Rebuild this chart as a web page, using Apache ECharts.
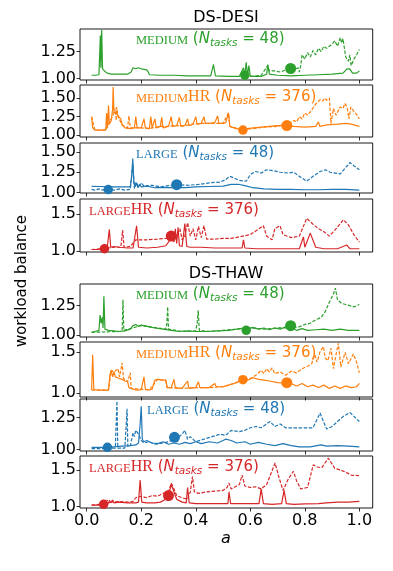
<!DOCTYPE html>
<html><head><meta charset="utf-8">
<script src="https://cdn.jsdelivr.net/npm/echarts@6/dist/echarts.min.js"></script>
<style>html,body{margin:0;padding:0;background:#fff}#c{width:393px;height:571px}</style>
</head><body><div id="c"></div>
<script>
// ---------- DATA ----------
const xTicks = [0, 0.2, 0.4, 0.6, 0.8, 1.0];
const groupTitles = ['DS-DESI', 'DS-THAW'];
const yLabel = 'workload balance';
const xLabel = 'a';

// DS-DESI MEDIUM
const desiMediumSolid = [[0.018,1.03],[0.03,1.03],[0.045,1.035],[0.05,1.40],[0.052,1.10],[0.055,1.45],[0.058,1.09],[0.065,1.07],[0.075,1.05],[0.09,1.04],[0.12,1.04],[0.15,1.04],[0.163,1.06],[0.17,1.10],[0.18,1.09],[0.19,1.10],[0.20,1.09],[0.21,1.085],[0.22,1.08],[0.226,1.06],[0.23,1.035],[0.27,1.03],[0.32,1.03],[0.37,1.025],[0.42,1.025],[0.455,1.025],[0.465,1.13],[0.472,1.025],[0.52,1.02],[0.56,1.02],[0.575,1.10],[0.58,1.03],[0.585,1.15],[0.59,1.03],[0.595,1.12],[0.60,1.02],[0.64,1.02],[0.66,1.04],[0.664,1.13],[0.67,1.04],[0.70,1.03],[0.75,1.025],[0.80,1.03],[0.85,1.035],[0.90,1.04],[0.94,1.05],[0.955,1.09],[0.965,1.09],[0.975,1.05],[0.99,1.05],[1.0,1.07]];
const desiMediumDashed = [[0.60,1.02],[0.64,1.03],[0.664,1.12],[0.67,1.07],[0.69,1.07],[0.71,1.06],[0.73,1.08],[0.748,1.09],[0.76,1.08],[0.775,1.10],[0.78,1.06],[0.785,1.12],[0.79,1.22],[0.80,1.18],[0.81,1.24],[0.82,1.20],[0.83,1.26],[0.84,1.22],[0.85,1.28],[0.86,1.25],[0.87,1.30],[0.88,1.28],[0.89,1.30],[0.90,1.32],[0.91,1.35],[0.92,1.30],[0.93,1.38],[0.935,1.33],[0.94,1.37],[0.95,1.20],[0.96,1.16],[0.965,1.22],[0.97,1.12],[0.98,1.18],[0.99,1.22],[1.0,1.27]];
const desiMediumMarkers = [[0.58,1.03],[0.748,1.093]];

// DS-DESI MEDIUM HR
const desiMediumHRSolid = [[0.018,1.25],[0.022,1.10],[0.03,1.07],[0.05,1.07],[0.07,1.07],[0.073,1.30],[0.076,1.10],[0.08,1.40],[0.083,1.15],[0.09,1.20],[0.095,1.35],[0.097,1.65],[0.10,1.30],[0.105,1.28],[0.11,1.30],[0.115,1.26],[0.12,1.28],[0.125,1.22],[0.13,1.14],[0.14,1.10],[0.16,1.09],[0.175,1.10],[0.18,1.25],[0.185,1.10],[0.20,1.10],[0.21,1.22],[0.215,1.10],[0.23,1.09],[0.235,1.25],[0.24,1.10],[0.25,1.22],[0.255,1.10],[0.27,1.12],[0.275,1.24],[0.28,1.10],[0.30,1.12],[0.31,1.25],[0.315,1.12],[0.33,1.13],[0.34,1.24],[0.345,1.12],[0.36,1.13],[0.37,1.22],[0.375,1.13],[0.39,1.15],[0.40,1.25],[0.405,1.15],[0.42,1.16],[0.43,1.25],[0.435,1.16],[0.45,1.16],[0.47,1.17],[0.48,1.26],[0.485,1.16],[0.50,1.16],[0.51,1.17],[0.52,1.30],[0.525,1.12],[0.54,1.10],[0.56,1.08],[0.575,1.07],[0.59,1.09],[0.61,1.10],[0.64,1.11],[0.67,1.12],[0.70,1.13],[0.734,1.13],[0.76,1.12],[0.80,1.11],[0.84,1.12],[0.85,1.18],[0.855,1.12],[0.88,1.14],[0.92,1.15],[0.95,1.16],[0.97,1.15],[1.0,1.12]];
const desiMediumHRDashed = [[0.018,1.25],[0.03,1.07],[0.07,1.07],[0.10,1.30],[0.105,1.36],[0.108,1.20],[0.11,1.38],[0.115,1.25],[0.13,1.14],[0.15,1.10],[0.155,1.26],[0.16,1.10],[0.20,1.10],[0.23,1.09],[0.27,1.12],[0.30,1.12],[0.33,1.13],[0.36,1.13],[0.39,1.15],[0.42,1.16],[0.45,1.16],[0.48,1.16],[0.50,1.16],[0.52,1.30],[0.525,1.12],[0.57,1.07],[0.65,1.11],[0.70,1.12],[0.72,1.14],[0.74,1.16],[0.76,1.20],[0.77,1.18],[0.78,1.25],[0.79,1.22],[0.80,1.30],[0.81,1.27],[0.825,1.34],[0.84,1.42],[0.856,1.48],[0.865,1.46],[0.874,1.50],[0.88,1.47],[0.89,1.50],[0.896,1.16],[0.905,1.36],[0.915,1.27],[0.929,1.38],[0.94,1.36],[0.947,1.43],[0.955,1.38],[0.962,1.22],[0.969,1.38],[0.98,1.32],[0.99,1.28],[1.0,1.22]];
const desiMediumHRMarkers = [[0.573,1.07],[0.734,1.13]];

// DS-DESI LARGE
const desiLargeSolid = [[0.018,1.077],[0.05,1.075],[0.08,1.07],[0.12,1.07],[0.16,1.07],[0.165,1.20],[0.169,1.42],[0.173,1.12],[0.178,1.07],[0.183,1.12],[0.188,1.06],[0.193,1.10],[0.20,1.07],[0.22,1.08],[0.25,1.06],[0.28,1.065],[0.30,1.06],[0.33,1.065],[0.36,1.06],[0.40,1.07],[0.45,1.075],[0.50,1.08],[0.53,1.10],[0.56,1.10],[0.58,1.085],[0.61,1.06],[0.65,1.045],[0.70,1.04],[0.75,1.04],[0.80,1.035],[0.85,1.035],[0.90,1.04],[0.95,1.04],[1.0,1.03]];
const desiLargeDashed = [[0.018,1.04],[0.03,1.03],[0.045,1.045],[0.06,1.03],[0.08,1.037],[0.10,1.03],[0.12,1.045],[0.14,1.03],[0.16,1.04],[0.169,1.35],[0.175,1.05],[0.18,1.13],[0.19,1.07],[0.20,1.12],[0.21,1.08],[0.24,1.09],[0.27,1.07],[0.30,1.085],[0.33,1.098],[0.37,1.09],[0.41,1.10],[0.45,1.12],[0.49,1.13],[0.51,1.16],[0.525,1.20],[0.54,1.18],[0.56,1.15],[0.585,1.14],[0.60,1.22],[0.62,1.26],[0.64,1.24],[0.66,1.28],[0.685,1.27],[0.71,1.25],[0.74,1.24],[0.76,1.25],[0.78,1.20],[0.807,1.14],[0.83,1.20],[0.856,1.26],[0.875,1.28],[0.893,1.25],[0.93,1.23],[0.966,1.37],[0.98,1.33],[1.0,1.28]];
const desiLargeMarkers = [[0.079,1.037],[0.33,1.098]];

// DS-DESI LARGE HR
const desiLargeHRSolid = [[0.018,1.02],[0.04,1.02],[0.063,1.03],[0.075,1.04],[0.083,1.29],[0.088,1.05],[0.10,1.06],[0.12,1.05],[0.15,1.04],[0.17,1.04],[0.183,1.34],[0.19,1.05],[0.22,1.04],[0.26,1.05],[0.29,1.07],[0.312,1.18],[0.32,1.12],[0.325,1.30],[0.33,1.10],[0.335,1.32],[0.34,1.07],[0.35,1.06],[0.36,1.37],[0.367,1.06],[0.38,1.05],[0.42,1.05],[0.47,1.04],[0.52,1.04],[0.57,1.04],[0.575,1.15],[0.58,1.04],[0.62,1.03],[0.68,1.03],[0.74,1.03],[0.78,1.03],[0.795,1.19],[0.80,1.05],[0.82,1.24],[0.84,1.05],[0.87,1.03],[0.92,1.03],[0.954,1.08],[0.965,1.03],[1.0,1.03]];
const desiLargeHRDashed = [[0.018,1.02],[0.06,1.03],[0.10,1.05],[0.125,1.05],[0.132,1.28],[0.137,1.05],[0.16,1.06],[0.18,1.15],[0.19,1.15],[0.22,1.15],[0.26,1.16],[0.29,1.17],[0.312,1.18],[0.33,1.20],[0.342,1.30],[0.35,1.15],[0.36,1.20],[0.37,1.38],[0.38,1.20],[0.39,1.30],[0.40,1.15],[0.41,1.33],[0.42,1.18],[0.43,1.34],[0.44,1.16],[0.47,1.16],[0.50,1.17],[0.53,1.17],[0.56,1.19],[0.60,1.22],[0.62,1.27],[0.648,1.34],[0.66,1.20],[0.68,1.15],[0.69,1.30],[0.709,1.34],[0.72,1.22],[0.75,1.18],[0.78,1.20],[0.807,1.44],[0.83,1.36],[0.85,1.30],[0.87,1.26],[0.89,1.20],[0.915,1.30],[0.941,1.42],[0.96,1.35],[0.98,1.22],[1.0,1.12]];
const desiLargeHRMarkers = [[0.065,1.03],[0.31,1.20]];

// DS-THAW MEDIUM
const thawMediumSolid = [[0.018,1.023],[0.03,1.03],[0.045,1.04],[0.049,1.17],[0.053,1.10],[0.057,1.15],[0.060,1.06],[0.063,1.33],[0.067,1.05],[0.08,1.04],[0.10,1.035],[0.12,1.03],[0.14,1.035],[0.16,1.05],[0.17,1.08],[0.18,1.09],[0.19,1.075],[0.20,1.085],[0.21,1.08],[0.23,1.07],[0.25,1.06],[0.28,1.05],[0.31,1.04],[0.34,1.03],[0.37,1.035],[0.40,1.03],[0.44,1.03],[0.48,1.035],[0.52,1.04],[0.55,1.05],[0.575,1.06],[0.59,1.05],[0.61,1.065],[0.63,1.05],[0.65,1.06],[0.67,1.045],[0.69,1.06],[0.71,1.05],[0.73,1.07],[0.75,1.06],[0.77,1.04],[0.79,1.055],[0.81,1.04],[0.84,1.045],[0.87,1.05],[0.90,1.04],[0.93,1.05],[0.96,1.04],[1.0,1.04]];
const thawMediumDashed = [[0.018,1.023],[0.12,1.03],[0.130,1.04],[0.133,1.30],[0.136,1.04],[0.20,1.08],[0.26,1.06],[0.29,1.05],[0.294,1.10],[0.297,1.24],[0.30,1.05],[0.35,1.03],[0.40,1.035],[0.405,1.10],[0.409,1.21],[0.413,1.04],[0.45,1.03],[0.50,1.04],[0.55,1.05],[0.60,1.06],[0.65,1.05],[0.70,1.06],[0.75,1.06],[0.78,1.07],[0.80,1.09],[0.82,1.10],[0.84,1.13],[0.86,1.15],[0.875,1.20],[0.89,1.28],[0.905,1.35],[0.912,1.40],[0.92,1.30],[0.935,1.27],[0.95,1.26],[0.965,1.25],[0.98,1.24],[1.0,1.26]];
const thawMediumMarkers = [[0.585,1.04],[0.748,1.08]];

// DS-THAW MEDIUM HR
const thawMediumHRSolid = [[0.018,1.04],[0.022,1.47],[0.026,1.05],[0.04,1.04],[0.06,1.04],[0.08,1.04],[0.085,1.22],[0.09,1.28],[0.095,1.20],[0.10,1.26],[0.105,1.20],[0.11,1.22],[0.12,1.18],[0.13,1.17],[0.14,1.15],[0.15,1.14],[0.155,1.07],[0.16,1.05],[0.18,1.04],[0.20,1.045],[0.21,1.20],[0.215,1.05],[0.23,1.04],[0.24,1.05],[0.25,1.16],[0.26,1.17],[0.28,1.16],[0.29,1.16],[0.295,1.07],[0.31,1.07],[0.32,1.17],[0.325,1.07],[0.35,1.06],[0.37,1.15],[0.375,1.06],[0.40,1.07],[0.41,1.14],[0.415,1.07],[0.45,1.07],[0.47,1.12],[0.475,1.08],[0.50,1.08],[0.52,1.10],[0.54,1.12],[0.56,1.15],[0.575,1.166],[0.59,1.16],[0.61,1.19],[0.63,1.17],[0.65,1.16],[0.67,1.15],[0.70,1.13],[0.734,1.125],[0.75,1.12],[0.77,1.09],[0.79,1.12],[0.81,1.08],[0.83,1.10],[0.85,1.07],[0.87,1.10],[0.89,1.06],[0.91,1.09],[0.93,1.06],[0.95,1.09],[0.97,1.07],[0.99,1.08],[1.0,1.12]];
const thawMediumHRDashed = [[0.018,1.04],[0.08,1.04],[0.09,1.28],[0.10,1.26],[0.115,1.30],[0.12,1.20],[0.13,1.37],[0.135,1.18],[0.15,1.14],[0.16,1.25],[0.163,1.06],[0.20,1.05],[0.23,1.04],[0.26,1.17],[0.29,1.16],[0.295,1.07],[0.35,1.06],[0.40,1.07],[0.45,1.07],[0.50,1.08],[0.55,1.13],[0.575,1.17],[0.60,1.18],[0.62,1.22],[0.64,1.28],[0.65,1.24],[0.66,1.30],[0.67,1.26],[0.68,1.31],[0.69,1.24],[0.71,1.26],[0.73,1.22],[0.75,1.27],[0.77,1.25],[0.79,1.30],[0.81,1.33],[0.825,1.36],[0.837,1.47],[0.845,1.38],[0.855,1.50],[0.868,1.57],[0.875,1.43],[0.885,1.40],[0.896,1.55],[0.905,1.30],[0.915,1.48],[0.923,1.61],[0.932,1.32],[0.948,1.50],[0.96,1.36],[0.978,1.48],[0.99,1.38],[1.0,1.25]];
const thawMediumHRMarkers = [[0.573,1.166],[0.734,1.13]];

// DS-THAW LARGE
const thawLargeSolid = [[0.018,1.016],[0.04,1.015],[0.076,1.016],[0.10,1.02],[0.13,1.025],[0.16,1.03],[0.18,1.035],[0.19,1.05],[0.196,1.20],[0.20,1.34],[0.204,1.08],[0.21,1.06],[0.22,1.07],[0.24,1.05],[0.26,1.045],[0.28,1.06],[0.30,1.04],[0.32,1.05],[0.34,1.04],[0.36,1.055],[0.38,1.045],[0.40,1.06],[0.42,1.045],[0.45,1.06],[0.48,1.05],[0.51,1.08],[0.53,1.07],[0.55,1.05],[0.58,1.06],[0.60,1.04],[0.63,1.055],[0.66,1.04],[0.69,1.03],[0.72,1.045],[0.75,1.03],[0.78,1.02],[0.82,1.02],[0.86,1.035],[0.88,1.025],[0.92,1.03],[0.96,1.025],[1.0,1.02]];
const thawLargeDashed = [[0.018,1.005],[0.05,1.005],[0.08,1.008],[0.105,1.01],[0.108,1.20],[0.111,1.38],[0.114,1.01],[0.14,1.01],[0.145,1.20],[0.148,1.32],[0.151,1.02],[0.16,1.03],[0.17,1.13],[0.175,1.10],[0.18,1.15],[0.19,1.12],[0.20,1.07],[0.21,1.05],[0.23,1.06],[0.25,1.04],[0.28,1.05],[0.30,1.06],[0.32,1.08],[0.34,1.10],[0.35,1.12],[0.36,1.15],[0.37,1.08],[0.38,1.10],[0.40,1.06],[0.43,1.08],[0.46,1.10],[0.49,1.12],[0.51,1.11],[0.53,1.15],[0.56,1.14],[0.58,1.15],[0.60,1.17],[0.62,1.18],[0.64,1.17],[0.672,1.22],[0.69,1.18],[0.71,1.20],[0.73,1.17],[0.76,1.17],[0.80,1.17],[0.83,1.17],[0.856,1.286],[0.88,1.16],[0.90,1.18],[0.92,1.22],[0.941,1.26],[0.966,1.29],[1.0,1.22]];
const thawLargeMarkers = [[0.076,1.016],[0.322,1.095]];

// DS-THAW LARGE HR
const thawLargeHRSolid = [[0.018,1.02],[0.04,1.02],[0.061,1.03],[0.08,1.05],[0.09,1.06],[0.095,1.09],[0.10,1.05],[0.12,1.06],[0.15,1.05],[0.18,1.05],[0.19,1.06],[0.196,1.36],[0.202,1.06],[0.22,1.05],[0.25,1.05],[0.27,1.06],[0.29,1.10],[0.30,1.15],[0.31,1.30],[0.32,1.20],[0.33,1.10],[0.35,1.06],[0.365,1.05],[0.37,1.26],[0.376,1.05],[0.40,1.04],[0.45,1.04],[0.50,1.04],[0.518,1.04],[0.522,1.20],[0.528,1.04],[0.56,1.04],[0.60,1.04],[0.632,1.04],[0.64,1.24],[0.648,1.04],[0.68,1.03],[0.715,1.04],[0.724,1.22],[0.732,1.04],[0.76,1.03],[0.80,1.035],[0.85,1.04],[0.88,1.05],[0.92,1.06],[0.96,1.06],[1.0,1.07]];
const thawLargeHRDashed = [[0.018,1.02],[0.05,1.03],[0.07,1.05],[0.075,1.09],[0.08,1.05],[0.085,1.09],[0.09,1.06],[0.12,1.07],[0.15,1.06],[0.17,1.07],[0.18,1.12],[0.20,1.14],[0.22,1.12],[0.24,1.15],[0.26,1.14],[0.28,1.18],[0.30,1.20],[0.31,1.32],[0.32,1.24],[0.33,1.15],[0.35,1.12],[0.37,1.10],[0.38,1.20],[0.388,1.41],[0.395,1.20],[0.41,1.18],[0.44,1.20],[0.47,1.21],[0.50,1.22],[0.515,1.26],[0.522,1.32],[0.53,1.24],[0.545,1.27],[0.56,1.30],[0.57,1.43],[0.58,1.28],[0.60,1.26],[0.62,1.27],[0.64,1.24],[0.66,1.30],[0.691,1.595],[0.705,1.40],[0.72,1.22],[0.74,1.38],[0.758,1.48],[0.77,1.35],[0.785,1.24],[0.81,1.26],[0.831,1.57],[0.845,1.54],[0.862,1.53],[0.886,1.66],[0.90,1.58],[0.91,1.52],[0.93,1.50],[0.95,1.47],[0.97,1.43],[1.0,1.42]];
const thawLargeHRMarkers = [[0.062,1.03],[0.30,1.15]];

const runNames = ['MEDIUM', 'MEDIUM', 'LARGE', 'LARGE', 'MEDIUM', 'MEDIUM', 'LARGE', 'LARGE'];
const runSuffix = ['', 'HR', '', 'HR', '', 'HR', '', 'HR'];
const nTasks = [48, 376, 48, 376, 48, 376, 48, 376];
const yTickValues = [[1.00,1.25],[1.00,1.25,1.50],[1.00,1.25,1.50],[1.0,1.5],[1.00,1.25],[1.0,1.5],[1.00,1.25],[1.0,1.5]];

// ---------- LAYOUT / STYLE ----------
const COLORS = {MEDIUM:'#2ca02c', MEDIUMHR:'#ff7f0e', LARGE:'#1f77b4', LARGEHR:'#d62728'};
const solids = [desiMediumSolid, desiMediumHRSolid, desiLargeSolid, desiLargeHRSolid, thawMediumSolid, thawMediumHRSolid, thawLargeSolid, thawLargeHRSolid];
const dashes = [desiMediumDashed, desiMediumHRDashed, desiLargeDashed, desiLargeHRDashed, thawMediumDashed, thawMediumHRDashed, thawLargeDashed, thawLargeHRDashed];
const markers = [desiMediumMarkers, desiMediumHRMarkers, desiLargeMarkers, desiLargeHRMarkers, thawMediumMarkers, thawMediumHRMarkers, thawLargeMarkers, thawLargeHRMarkers];
const layout = [
  {top:29, h:51, ymin:0.986, ymax:1.46, dec:2, tx:136, ty:42},
  {top:85, h:52, ymin:0.977, ymax:1.676, dec:2, tx:136, ty:99},
  {top:143, h:50, ymin:0.995, ymax:1.61, dec:2, tx:136, ty:156},
  {top:199, h:53, ymin:0.986, ymax:1.70, dec:1, tx:89, ty:212},
  {top:284, h:53, ymin:0.983, ymax:1.435, dec:2, tx:136, ty:297},
  {top:342, h:55, ymin:0.955, ymax:1.626, dec:1, tx:136, ty:355},
  {top:399, h:52, ymin:0.987, ymax:1.397, dec:2, tx:147, ty:412},
  {top:456, h:52, ymin:0.98, ymax:1.69, dec:1, tx:89, ty:469}
];
const LEFT = 80, WIDTH = 292.7;
const FONT = 'DejaVu Sans';
const TICKFS = 16;

const grid = [], xAxis = [], yAxis = [], series = [], graphic = [];
layout.forEach((p, i) => {
  const key = runNames[i] + runSuffix[i];
  const col = COLORS[key];
  grid.push({left: LEFT, top: p.top, width: WIDTH, height: p.h, show: true, borderColor: '#1a1a1a', borderWidth: 1, backgroundColor: 'transparent'});
  xAxis.push({type: 'value', gridIndex: i, min: -0.0246, max: 1.049,
    splitLine: {show: false}, axisLine: {show: false, onZero: false},
    axisTick: {show: true, customValues: xTicks, length: 3.5, lineStyle: {color: '#000', width: 0.8}},
    axisLabel: {show: i === 7, customValues: xTicks, formatter: v => v.toFixed(1), fontSize: TICKFS, color: '#000', fontFamily: FONT, margin: 5}});
  yAxis.push({type: 'value', gridIndex: i, min: p.ymin, max: p.ymax,
    splitLine: {show: false}, axisLine: {show: false, onZero: false},
    axisTick: {show: true, customValues: yTickValues[i], length: 3.5, lineStyle: {color: '#000', width: 0.8}},
    axisLabel: {show: true, customValues: yTickValues[i], formatter: v => v.toFixed(p.dec), fontSize: TICKFS, color: '#000', fontFamily: FONT, margin: 4}});
  series.push({type: 'line', xAxisIndex: i, yAxisIndex: i, data: dashes[i], showSymbol: false, symbol: 'none', clip: true,
    lineStyle: {color: col, width: 1.2, type: [3.5, 1.6]}, animation: false, z: 2});
  series.push({type: 'line', xAxisIndex: i, yAxisIndex: i, data: solids[i], showSymbol: false, symbol: 'none', clip: true,
    lineStyle: {color: col, width: 1.2}, animation: false, z: 3});
  series.push({type: 'scatter', xAxisIndex: i, yAxisIndex: i, data: markers[i], symbol: 'circle',
    symbolSize: (v, prm) => prm.dataIndex === 0 ? 9.5 : 11, itemStyle: {color: col, opacity: 1}, animation: false, z: 4});
  const suffix = runSuffix[i] ? '{hr|' + runSuffix[i] + '}' : '';
  graphic.push({type: 'text', left: p.tx, top: p.ty - 10, z: 10,
    style: {text: '{sc|' + runNames[i] + '}' + suffix + '{p| (}{it|N}{sub|tasks}{p| = ' + nTasks[i] + ')}',
      fill: col,
      rich: {
        sc: {fontFamily: 'Liberation Serif', fontSize: 12.5, fill: col, padding: [3, 0, 0, 0]},
        hr: {fontFamily: 'Liberation Serif', fontSize: 16, fill: col},
        p: {fontFamily: FONT, fontSize: 15, fill: col},
        it: {fontFamily: FONT, fontStyle: 'italic', fontSize: 15, fill: col},
        sub: {fontFamily: FONT, fontStyle: 'italic', fontSize: 10.5, fill: col, padding: [8, 0, 0, 0]}
      }}});
});

graphic.push({type: 'text', x: 226, y: 18, style: {text: groupTitles[0], font: '16px "DejaVu Sans"', fill: '#000', align: 'center', verticalAlign: 'middle'}});
graphic.push({type: 'text', x: 226, y: 274, style: {text: groupTitles[1], font: '16px "DejaVu Sans"', fill: '#000', align: 'center', verticalAlign: 'middle'}});
graphic.push({type: 'text', x: 22, y: 281, rotation: Math.PI / 2, style: {text: yLabel, font: '15px "DejaVu Sans"', fill: '#000', align: 'center', verticalAlign: 'middle'}});
graphic.push({type: 'text', x: 226, y: 539, style: {text: xLabel, font: 'italic 16px "DejaVu Sans"', fill: '#000', align: 'center', verticalAlign: 'middle'}});

const chart = echarts.init(document.getElementById('c'), null, {renderer: 'canvas'});
chart.setOption({animation: false, backgroundColor: '#fff', grid, xAxis, yAxis, series, graphic});
</script>
</body></html>
